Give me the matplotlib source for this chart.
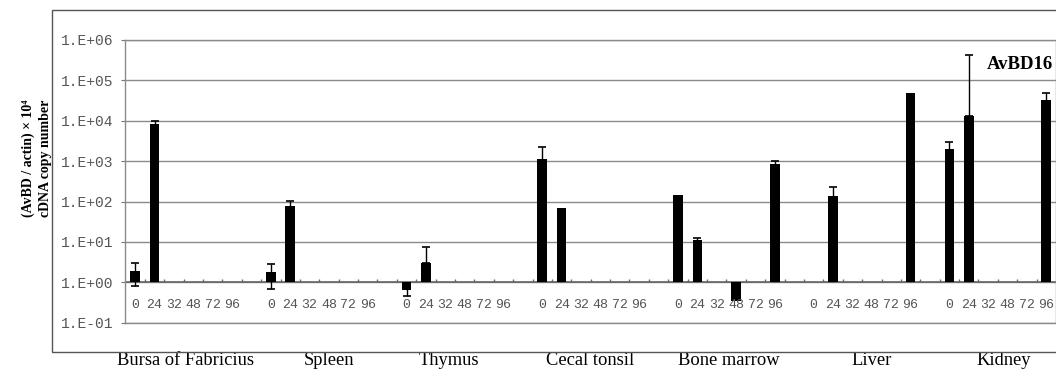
import numpy as np
import matplotlib
matplotlib.use("Agg")
import matplotlib.pyplot as plt
from matplotlib.patches import Rectangle
import matplotlib.transforms as mtransforms

tissues = ["Bursa of Fabricius", "Spleen", "Thymus", "Cecal tonsil",
           "Bone marrow", "Liver", "Kidney"]
hours = ["0", "24", "32", "48", "72", "96"]

nan = np.nan
# mean copy number per tissue, one value per time point (nan = no bar)
bursa  = [1.9, 8300, nan, nan, nan, nan]
spleen = [1.8, 78, nan, nan, nan, nan]
thymus = [0.65, 3.0, nan, nan, nan, nan]
cecal  = [1150, 70, nan, nan, nan, nan]
marrow = [147, 11, nan, 0.35, nan, 850]
liver  = [nan, 140, nan, nan, nan, 50000]
kidney = [1950, 13500, nan, nan, nan, 33000]

# error bars (upper / lower part)
bursa_up,  bursa_dn  = [1.1, 1400, 0, 0, 0, 0], [1.1, 1400, 0, 0, 0, 0]
spleen_up, spleen_dn = [1.1, 27, 0, 0, 0, 0], [1.1, 27, 0, 0, 0, 0]
thymus_up, thymus_dn = [0.2, 4.4, 0, 0, 0, 0], [0.2, 0, 0, 0, 0, 0]
cecal_up,  cecal_dn  = [1050, 0, 0, 0, 0, 0], [1050, 0, 0, 0, 0, 0]
marrow_up, marrow_dn = [0, 1.8, 0, 0, 0, 150], [0, 1.8, 0, 0, 0, 150]
liver_up,  liver_dn  = [0, 95, 0, 0, 0, 0], [0, 95, 0, 0, 0, 0]
kidney_up, kidney_dn = [1000, 420000, 0, 0, 0, 17000], [1000, 0, 0, 0, 0, 17000]

values = [bursa, spleen, thymus, cecal, marrow, liver, kidney]
err_up = [bursa_up, spleen_up, thymus_up, cecal_up, marrow_up, liver_up, kidney_up]
err_dn = [bursa_dn, spleen_dn, thymus_dn, cecal_dn, marrow_dn, liver_dn, kidney_dn]

yticks = [1e-1, 1e0, 1e1, 1e2, 1e3, 1e4, 1e5, 1e6]
ytick_labels = ["1.E-01", "1.E+00", "1.E+01", "1.E+02", "1.E+03", "1.E+04", "1.E+05", "1.E+06"]

# where the tissue names sit, in slots from the group start (they are not all centred)
label_pos = [2.6, 3.0, 2.2, 2.45, 2.6, 3.0, 2.8]

plt.rcParams['font.family'] = ['Liberation Serif', 'DejaVu Serif']

fig = plt.figure(figsize=(10.56, 3.72), dpi=100)
ax = fig.add_axes([0.1188, 0.1325, 0.8812, 0.76])

gap = 7  # 6 time points + 1 empty slot per tissue
xs, vs, ups, dns = [], [], [], []
for g in range(len(tissues)):
    for i in range(len(hours)):
        v = values[g][i]
        if np.isnan(v):
            continue
        xs.append(g * gap + i)
        vs.append(v)
        ups.append(err_up[g][i])
        dns.append(err_dn[g][i])
xs = np.array(xs); vs = np.array(vs); ups = np.array(ups); dns = np.array(dns)

ax.set_yscale('log')
ax.set_ylim(1e-1, 1e6)
ax.set_xlim(-0.5, gap * len(tissues) - 1.5)

ax.bar(xs, vs - 1, bottom=1, width=0.5, color='black', zorder=3)
has_err = (ups > 0) | (dns > 0)
ax.errorbar(xs[has_err], vs[has_err], yerr=[dns[has_err], ups[has_err]], fmt='none',
            ecolor='black', elinewidth=1, capsize=3, capthick=1.2, zorder=4)

# grid / frame
ax.set_yticks(yticks)
ax.set_yticklabels(ytick_labels, family='Liberation Mono', fontsize=10.5, color='#555555')
ax.yaxis.set_minor_locator(matplotlib.ticker.NullLocator())
ax.tick_params(axis='y', length=3, color='#777777', pad=6)
ax.grid(axis='y', color='#8a8a8a', linewidth=1, zorder=0)
ax.set_xticks([])
for s in ax.spines.values():
    s.set_color('#8a8a8a')
    s.set_linewidth(1)

# baseline at 1 with small tick marks between slots
ax.axhline(1, color='#666666', linewidth=1.2, zorder=2)
bounds = np.arange(0.5, gap * len(tissues) - 1.5, 1)
ax.vlines(bounds, 1, 10 ** 0.09, color='#666666', linewidth=1, zorder=2)

# time labels inside the plot
for g in range(len(tissues)):
    for i, h in enumerate(hours):
        ax.text(g * gap + i, 10 ** -0.56, h, ha='center', va='center',
                family='Liberation Mono', fontsize=9.5, color='#555555')

# tissue labels under the outer frame
trans = mtransforms.blended_transform_factory(ax.transData, fig.transFigure)
for g, t in enumerate(tissues):
    ax.text(g * gap + label_pos[g], 0.03, t, transform=trans, ha='center', va='center',
            fontsize=13.3, clip_on=False)

ax.text(0.997, 0.915, "AvBD16", transform=ax.transAxes, ha='right', va='center',
        fontsize=13.5, fontweight='bold')

fig.text(0.035, 0.575, "(AvBD / actin) \u00d7 10\u2074\ncDNA copy number", rotation=90,
         ha='center', va='center', multialignment='center', fontsize=10,
         fontweight='bold', linespacing=1.45)

# outer frame
fig.patches.append(Rectangle((52 / 1056, 1 - 352 / 372), 1.0, 342 / 372,
                             transform=fig.transFigure, fill=False,
                             edgecolor='#555555', linewidth=1))

fig.savefig("out.png", dpi=100)
